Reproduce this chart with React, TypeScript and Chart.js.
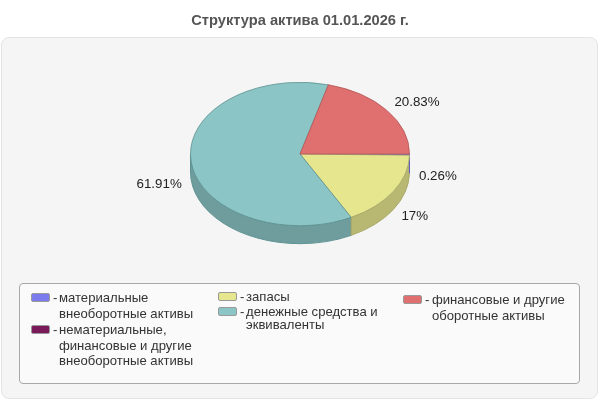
import { useEffect, useRef } from "react";
import { Chart, registerables } from "chart.js";

Chart.register(...registerables);

const title = "Структура актива 01.01.2026 г.";
const categories = [
  "материальные внеоборотные активы",
  "нематериальные, финансовые и другие внеоборотные активы",
  "запасы",
  "денежные средства и эквиваленты",
  "финансовые и другие оборотные активы",
];
const values = [0.26, 0, 17, 61.91, 20.83];
const colors = ["#7b7bee", "#7a1a5a", "#e6e68f", "#8cc5c5", "#e07070"];
const edgeColors = ["#5f5fc0", "#5f1446", "#a8a868", "#5f9393", "#b25858"];
const wallColors = ["#5f5fc0", "#5f1446", "#b8b872", "#6f9c9c", "#b25858"];

const SQUASH = 72 / 110;
const DEPTH = 18;

const FONT = '"Liberation Sans", Arial, sans-serif';

// chart.js pies are always round, so squash the drawing and add the side wall by hand
const pie3d = {
  id: "pie3d",
  beforeDatasetsDraw(chart: Chart) {
    const { ctx } = chart;
    const arcs = chart.getDatasetMeta(0).data as any[];
    const { x, y, outerRadius } = arcs[0].getProps(["x", "y", "outerRadius"], true);
    const ry = outerRadius * SQUASH;
    // last to first, otherwise the neighbour's edge hides the thin first slice
    for (let i = arcs.length - 1; i >= 0; i--) {
      const { startAngle, endAngle } = arcs[i].getProps(["startAngle", "endAngle"], true);
      const a = Math.max(startAngle, 0);
      const b = Math.min(endAngle, Math.PI);
      if (b <= a) continue;
      ctx.beginPath();
      ctx.ellipse(x, y, outerRadius, ry, 0, a, b);
      ctx.ellipse(x, y + DEPTH, outerRadius, ry, 0, b, a, true);
      ctx.closePath();
      ctx.fillStyle = wallColors[i];
      ctx.fill();
      ctx.strokeStyle = edgeColors[i];
      ctx.lineWidth = 1;
      ctx.stroke();
    }
    ctx.save();
    ctx.translate(x, y);
    ctx.scale(1, SQUASH);
    ctx.translate(-x, -y);
  },
  afterDatasetsDraw(chart: Chart) {
    const { ctx } = chart;
    ctx.restore();
    const arcs = chart.getDatasetMeta(0).data as any[];
    ctx.save();
    ctx.font = "13.33px " + FONT;
    ctx.fillStyle = "#222";
    ctx.textBaseline = "middle";
    arcs.forEach((arc, i) => {
      if (!values[i]) return;
      const { x, y, outerRadius, startAngle, endAngle } = arc.getProps(
        ["x", "y", "outerRadius", "startAngle", "endAngle"],
        true
      );
      const mid = (startAngle + endAngle) / 2;
      const sin = Math.sin(mid);
      const cos = Math.cos(mid);
      ctx.textAlign = cos >= 0 ? "left" : "right";
      ctx.fillText(
        values[i] + "%",
        x + (outerRadius + 9.5) * cos,
        y + 77 * sin + (sin > 0 ? 22 : -5)
      );
    });
    ctx.restore();
  },
};

function LegendItem({ index, left, top, lines, lineHeight, swatchTop, textLeft = 28 }: {
  index: number;
  left: number;
  top: number;
  lines: string[];
  lineHeight: number;
  swatchTop: number;
  textLeft?: number;
}) {
  return (
    <div style={{ position: "absolute", left, top }}>
      <div style={{
        position: "absolute", left: 0, top: swatchTop - top, width: 17, height: 7,
        background: colors[index], border: "1px solid #999", borderRadius: 2,
      }} />
      <div style={{ position: "absolute", left: 22, top: 0, lineHeight: lineHeight + "px" }}>-</div>
      <div style={{ position: "absolute", left: textLeft, top: 0, width: 170, lineHeight: lineHeight + "px" }}>
        {lines.map((l) => <div key={l} style={{ whiteSpace: "nowrap" }}>{l}</div>)}
      </div>
    </div>
  );
}

export default function App() {
  const ref = useRef<HTMLCanvasElement>(null);

  useEffect(() => {
    if (!ref.current) return;
    document.body.style.margin = "0";
    const chart = new Chart(ref.current, {
      type: "pie",
      data: {
        labels: categories,
        datasets: [{
          data: values,
          backgroundColor: colors,
          borderColor: edgeColors,
          borderWidth: (c: any) => (values[c.dataIndex] ? 1 : 0),
        }],
      },
      options: {
        responsive: false,
        animation: false,
        rotation: 90,
        events: [],
        layout: { padding: { top: 0, bottom: 136 } },
        plugins: {
          legend: { display: false },
          tooltip: { enabled: false },
          title: {
            display: true,
            text: title,
            color: "#555",
            font: { family: FONT, size: 14.67, weight: "bold" },
            padding: { top: 12, bottom: 14.4 },
          },
        },
      },
      plugins: [pie3d],
    });
    return () => { chart.destroy(); };
  }, []);

  return (
    <div style={{ position: "relative", width: 600, height: 400, overflow: "hidden", fontFamily: FONT, fontSize: 13.1, color: "#333" }}>
      <div style={{
        position: "absolute", left: 1, top: 37, width: 595, height: 360, background: "#f5f5f5",
        border: "1px solid #e4e4e4", borderRadius: 8,
      }} />
      <div style={{
        position: "absolute", left: 19, top: 283, width: 559, height: 99, background: "#fafafa",
        border: "1px solid #a8a8a8", borderRadius: 4,
      }} />
      <canvas ref={ref} width={600} height={400} style={{ position: "absolute", left: 0, top: 0 }} />
      <LegendItem index={0} left={31} top={290} swatchTop={293} lineHeight={16} lines={["материальные", "внеоборотные активы"]} />
      <LegendItem index={1} left={31} top={322} swatchTop={325} lineHeight={15.7} lines={["нематериальные,", "финансовые и другие", "внеоборотные активы"]} />
      <LegendItem index={2} left={218} top={289} swatchTop={292} lineHeight={15} lines={["запасы"]} />
      <LegendItem index={3} left={218} top={305} swatchTop={307} lineHeight={13} lines={["денежные средства и", "эквиваленты"]} />
      <LegendItem index={4} left={403} top={292} swatchTop={295} textLeft={29} lineHeight={16} lines={["финансовые и другие", "оборотные активы"]} />
    </div>
  );
}
